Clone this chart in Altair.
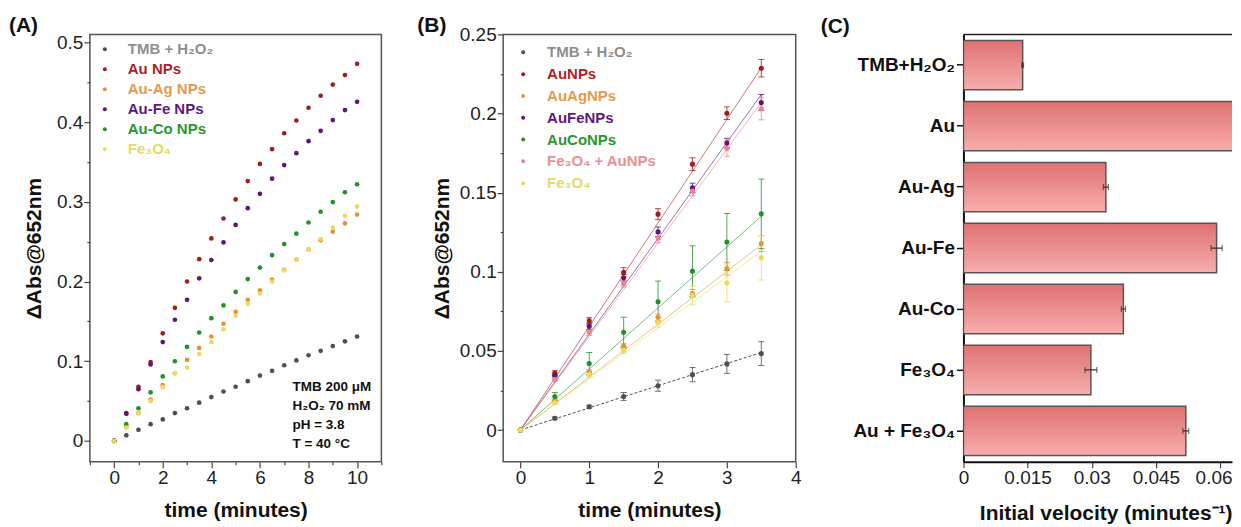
import altair as alt
import pandas as pd

FONT = "Liberation Sans"

# ---------------- Panel A data ----------------
a_times = [0, 0.5, 1, 1.5, 2, 2.5, 3, 3.5, 4, 4.5, 5, 5.5, 6, 6.5, 7, 7.5, 8, 8.5, 9, 9.5, 10]
a_names = ["TMB + H₂O₂", "Au NPs", "Au-Ag NPs", "Au-Fe NPs", "Au-Co NPs", "Fe₃O₄"]
a_tmb = [0, 0.007, 0.014, 0.021, 0.027, 0.035, 0.041, 0.048, 0.055, 0.062, 0.068,
         0.075, 0.082, 0.088, 0.095, 0.101, 0.1075, 0.113, 0.119, 0.125, 0.131]
a_au = [0, 0.035, 0.068, 0.099, 0.135, 0.167, 0.200, 0.228, 0.254, 0.279, 0.303,
        0.326, 0.3475, 0.366, 0.386, 0.402, 0.418, 0.433, 0.447, 0.459, 0.473]
a_auag = [0, 0.0175, 0.035, 0.052, 0.070, 0.085, 0.1017, 0.1167, 0.131, 0.147, 0.162,
          0.177, 0.189, 0.2025, 0.2146, 0.2275, 0.240, 0.2517, 0.2625, 0.273, 0.284]
a_aufe = [0, 0.034, 0.065, 0.096, 0.124, 0.152, 0.177, 0.204, 0.227, 0.249, 0.271,
          0.292, 0.310, 0.329, 0.346, 0.361, 0.376, 0.389, 0.4025, 0.415, 0.4254]
a_auco = [0, 0.021, 0.041, 0.061, 0.081, 0.100, 0.118, 0.136, 0.154, 0.170, 0.187,
          0.203, 0.2175, 0.233, 0.247, 0.260, 0.274, 0.2875, 0.2996, 0.312, 0.322]
a_fe3o4 = [0, 0.0167, 0.0346, 0.050, 0.0675, 0.085, 0.092, 0.109, 0.124, 0.140, 0.157,
           0.172, 0.185, 0.200, 0.214, 0.2275, 0.240, 0.2533, 0.2675, 0.2825, 0.294]
a_marker_colors = ["#4f4f4f", "#a31d1d", "#e8903a", "#5b1677", "#24902c", "#eadb5c"]
a_text_colors = ["#8e8e8e", "#b01f1f", "#e49a4c", "#5e1880", "#2a962e", "#e5da68"]
a_note = ["TMB 200 μM", "H₂O₂ 70 mM", "pH = 3.8", "T = 40 °C"]
a_yticks = [0, 0.05, 0.1, 0.15, 0.2, 0.25, 0.3, 0.35, 0.4, 0.45, 0.5]
a_xticks = [-1, 0, 1, 2, 3, 4, 5, 6, 7, 8, 9, 10, 11]

# ---------------- Panel B data ----------------
b_times = [0, 0.5, 1, 1.5, 2, 2.5, 3, 3.5]
b_names = ["TMB + H₂O₂", "AuNPs", "AuAgNPs", "AuFeNPs", "AuCoNPs", "Fe₃O₄ + AuNPs", "Fe₃O₄"]
b_tmb = [0, 0.0074, 0.0147, 0.0212, 0.028, 0.035, 0.0418, 0.0483]
b_tmb_err = [0, 0.0008, 0.001, 0.0025, 0.0035, 0.0045, 0.006, 0.0075]
b_au = [0, 0.036, 0.069, 0.0996, 0.1364, 0.168, 0.2002, 0.2286]
b_au_err = [0, 0.0015, 0.002, 0.003, 0.0035, 0.004, 0.004, 0.0055]
b_auag = [0, 0.0185, 0.0365, 0.053, 0.0712, 0.0863, 0.102, 0.1178]
b_auag_err = [0, 0.001, 0.0015, 0.0015, 0.002, 0.0025, 0.004, 0.005]
b_aufe = [0, 0.0345, 0.0655, 0.0962, 0.1253, 0.153, 0.1813, 0.207]
b_aufe_err = [0, 0.001, 0.002, 0.002, 0.003, 0.003, 0.003, 0.005]
b_auco = [0, 0.0212, 0.042, 0.0618, 0.0811, 0.1004, 0.1188, 0.1366]
b_auco_err = [0, 0.0025, 0.007, 0.0095, 0.013, 0.016, 0.018, 0.022]
b_mix = [0, 0.032, 0.0618, 0.0924, 0.1213, 0.151, 0.178, 0.203]
b_mix_err = [0, 0.001, 0.002, 0.002, 0.003, 0.003, 0.005, 0.007]
b_fe3o4 = [0, 0.0172, 0.035, 0.0504, 0.0679, 0.085, 0.093, 0.1088]
b_fe3o4_err = [0, 0.001, 0.0015, 0.002, 0.003, 0.006, 0.012, 0.014]
b_fit_t = [0, 3.5]
b_fit_start = [0, 0, 0, 0, 0, 0, 0]
b_fit_end = [0.049, 0.229, 0.117, 0.212, 0.135, 0.207, 0.113]
b_marker_colors = ["#4f4f4f", "#a31d1d", "#e8903a", "#5b1677", "#24902c", "#e8848e", "#eadb5c"]
b_text_colors = ["#8e8e8e", "#b01f1f", "#e49a4c", "#5e1880", "#2a962e", "#e89098", "#e5da68"]
b_yticks = [0, 0.025, 0.05, 0.075, 0.1, 0.125, 0.15, 0.175, 0.2, 0.225, 0.25]
b_xticks = [0, 0.25, 0.5, 0.75, 1, 1.25, 1.5, 1.75, 2, 2.25, 2.5, 2.75, 3, 3.25, 3.5, 3.75, 4]

# ---------------- Panel C data ----------------
c_cats = ["TMB+H₂O₂", "Au", "Au-Ag", "Au-Fe", "Au-Co", "Fe₃O₄", "Au + Fe₃O₄"]
c_vals = [0.01385, 0.0640, 0.0333, 0.0592, 0.0374, 0.0298, 0.0520]
c_errs = [0.0002, 0.0008, 0.0006, 0.0013, 0.0005, 0.0014, 0.0007]
c_xticks = [0, 0.0075, 0.015, 0.0225, 0.03, 0.0375, 0.045, 0.0525, 0.06]

# ---------------- helpers ----------------
W_A, W_B, W_C, H = 292, 293, 269, 428
GAP1, GAP2 = 122, 168
LABEL_SIZE = 19
TITLE_SIZE = 21


def num_axis(values, major, title, tx, ty, **extra):
    return alt.Axis(
        values=values,
        labelExpr=f"({major}) ? format(datum.value, '~g') : ''",
        tickSize={"condition": {"test": f"!({major})", "value": 3}, "value": 6},
        tickColor="#444", tickWidth=1.2, grid=False,
        labelFont=FONT, labelFontSize=LABEL_SIZE, labelColor="#222", labelPadding=1,
        labelFlush=False, labelOverlap=False,
        title=title, titleFont=FONT, titleFontSize=TITLE_SIZE, titleFontWeight="bold",
        titleColor="#111", titleX=tx, titleY=ty, titleBaseline="middle",
        **extra,
    )


def legend_layers(names, mcols, tcols, y0, y1, mx, tx):
    df = pd.DataFrame({"s": names, "mc": mcols, "tc": tcols})
    ly = alt.Y("s:N", scale=alt.Scale(type="point", domain=names, range=[y0, y1], padding=0), axis=None)
    pts = alt.Chart(df).mark_circle(size=16, opacity=1).encode(
        x=alt.value(mx), y=ly, color=alt.Color("mc:N", scale=None))
    txt = alt.Chart(df).mark_text(align="left", baseline="middle", font=FONT, fontSize=15,
                                  fontWeight="bold").encode(
        x=alt.value(tx), y=ly, text="s:N", color=alt.Color("tc:N", scale=None))
    return [pts, txt]


def panel_label(text, x, y):
    return alt.Chart(pd.DataFrame({"lab": [text]})).mark_text(
        align="left", baseline="middle", font=FONT, fontSize=21, fontWeight="bold", color="#111"
    ).encode(x=alt.value(x), y=alt.value(y), text="lab:N")


# ---------------- Panel A ----------------
rows = []
for name, vals in zip(a_names, [a_tmb, a_au, a_auag, a_aufe, a_auco, a_fe3o4]):
    for t, v in zip(a_times, vals):
        rows.append({"t": t, "v": v, "s": name})
dfA = pd.DataFrame(rows)

ptsA = alt.Chart(dfA).mark_circle(size=22, opacity=1).encode(
    x=alt.X("t:Q", scale=alt.Scale(domain=[-1, 11], nice=False, zero=False),
            axis=num_axis(a_xticks, "datum.value % 2 == 0", "time (minutes)", W_A / 2, 49, domain=False)),
    y=alt.Y("v:Q", scale=alt.Scale(domain=[-0.026, 0.51], nice=False, zero=False),
            axis=num_axis(a_yticks, "abs(datum.value*10 - round(datum.value*10)) < 0.001",
                          "ΔAbs@652nm", -55, H / 2, domain=False)),
    color=alt.Color("s:N", scale=alt.Scale(domain=a_names, range=a_marker_colors), legend=None),
)
noteA = alt.Chart(pd.DataFrame({"i": [0]})).mark_text(
    align="left", baseline="middle", font=FONT, fontSize=13.5, fontWeight="bold",
    lineHeight=19, color="#111").encode(x=alt.value(203), y=alt.value(353), text=alt.value(a_note))

panelA = alt.layer(
    ptsA, *legend_layers(a_names, a_marker_colors, a_text_colors, 15, 115, 15, 38),
    panel_label("(A)", -81, -8), noteA,
).resolve_scale(y="independent", color="independent").properties(
    width=W_A, height=H, view=alt.ViewBackground(stroke="#555", strokeWidth=1.5))

# ---------------- Panel B ----------------
rows = []
b_series = [b_tmb, b_au, b_auag, b_aufe, b_auco, b_mix, b_fe3o4]
b_errs = [b_tmb_err, b_au_err, b_auag_err, b_aufe_err, b_auco_err, b_mix_err, b_fe3o4_err]
for name, vals, errs in zip(b_names, b_series, b_errs):
    for t, v, e in zip(b_times, vals, errs):
        rows.append({"t": t, "v": v, "lo": v - e, "hi": v + e, "e": e, "s": name})
dfB = pd.DataFrame(rows)
rows = []
for name, v0, v1 in zip(b_names, b_fit_start, b_fit_end):
    rows.append({"t": b_fit_t[0], "v": v0, "s": name})
    rows.append({"t": b_fit_t[1], "v": v1, "s": name})
dfFit = pd.DataFrame(rows)

xB = alt.Scale(domain=[-0.25, 4], nice=False, zero=False)
yB = alt.Scale(domain=[-0.02, 0.25], nice=False, zero=False)
colB = alt.Scale(domain=b_names, range=b_marker_colors)

fitSolid = alt.Chart(dfFit).transform_filter(alt.datum.s != b_names[0]).mark_line(
    strokeWidth=0.8, opacity=0.75).encode(
    x=alt.X("t:Q", scale=xB), y=alt.Y("v:Q", scale=yB),
    color=alt.Color("s:N", scale=colB, legend=None), detail="s:N")
fitDash = alt.Chart(dfFit).transform_filter(alt.datum.s == b_names[0]).mark_line(
    strokeWidth=1, strokeDash=[3, 2]).encode(
    x=alt.X("t:Q", scale=xB), y=alt.Y("v:Q", scale=yB),
    color=alt.Color("s:N", scale=colB, legend=None))
errB = alt.Chart(dfB).transform_filter(alt.datum.e > 0).mark_rule(strokeWidth=1, opacity=0.8).encode(
    x=alt.X("t:Q", scale=xB), y=alt.Y("lo:Q", scale=yB), y2="hi:Q",
    color=alt.Color("s:N", scale=colB, legend=None))
capLo = alt.Chart(dfB).transform_filter(alt.datum.e > 0).mark_tick(
    orient="horizontal", size=6, thickness=1, opacity=0.8).encode(
    x=alt.X("t:Q", scale=xB), y=alt.Y("lo:Q", scale=yB),
    color=alt.Color("s:N", scale=colB, legend=None))
capHi = alt.Chart(dfB).transform_filter(alt.datum.e > 0).mark_tick(
    orient="horizontal", size=6, thickness=1, opacity=0.8).encode(
    x=alt.X("t:Q", scale=xB), y=alt.Y("hi:Q", scale=yB),
    color=alt.Color("s:N", scale=colB, legend=None))
ptsB = alt.Chart(dfB).mark_circle(size=26, opacity=1).encode(
    x=alt.X("t:Q", scale=xB,
            axis=num_axis(b_xticks, "abs(datum.value*2 - round(datum.value*2)) < 0.001",
                          "time (minutes)", W_B / 2, 49, domain=False)),
    y=alt.Y("v:Q", scale=yB,
            axis=num_axis(b_yticks, "abs(datum.value*20 - round(datum.value*20)) < 0.001",
                          "ΔAbs@652nm", -61, H / 2, domain=False)),
    color=alt.Color("s:N", scale=colB, legend=None))

mainB = alt.layer(fitDash, fitSolid, errB, capLo, capHi, ptsB)
panelB = alt.layer(
    mainB, *legend_layers(b_names, b_marker_colors, b_text_colors, 18, 149, 20, 44),
    panel_label("(B)", -86, -8),
).resolve_scale(y="independent", color="independent").properties(
    width=W_B, height=H, view=alt.ViewBackground(stroke="#555", strokeWidth=1.5))

# ---------------- Panel C ----------------
dfC = pd.DataFrame({
    "cat": c_cats, "v": c_vals,
    "lo": [v - e for v, e in zip(c_vals, c_errs)],
    "hi": [v + e for v, e in zip(c_vals, c_errs)],
})
xC = alt.Scale(domain=[0, 0.0628], nice=False, zero=True)
yC = alt.Scale(domain=c_cats, paddingInner=0.19, paddingOuter=0.1)
grad = alt.Gradient(
    gradient="linear",
    stops=[alt.GradientStop(color="#de7272", offset=0), alt.GradientStop(color="#f8adad", offset=1)],
    x1=0, x2=0, y1=0, y2=1)
barsC = alt.Chart(dfC).mark_bar(clip=True, fill=grad, stroke="#555", strokeWidth=1.5).encode(
    x=alt.X("v:Q", scale=xC,
            axis=num_axis(c_xticks, "abs(datum.value/0.015 - round(datum.value/0.015)) < 0.001",
                          "Initial velocity (minutes⁻¹)", W_C, 52,
                          domain=True, domainColor="#111", domainWidth=2, titleAlign="right",
                          labelAlign={"condition": {"test": "datum.value > 0.059", "value": "right"},
                                      "value": "center"},
                          labelOffset={"condition": {"test": "datum.value > 0.059", "value": 12},
                                       "value": 0})),
    y=alt.Y("cat:N", scale=yC, sort=c_cats,
            axis=alt.Axis(title=None, labelFont=FONT, labelFontSize=19, labelFontWeight="bold",
                          labelColor="#111", tickSize=7, tickColor="#111", tickWidth=1.5,
                          domainColor="#111", domainWidth=2, labelPadding=2, grid=False)),
)
errC = alt.Chart(dfC).mark_rule(clip=True, color="#333", strokeWidth=1.2).encode(
    x=alt.X("lo:Q", scale=xC), x2="hi:Q", y=alt.Y("cat:N", scale=yC, sort=c_cats))
capCl = alt.Chart(dfC).mark_tick(clip=True, orient="vertical", size=6, thickness=1.2, color="#333").encode(
    x=alt.X("lo:Q", scale=xC), y=alt.Y("cat:N", scale=yC, sort=c_cats))
capCh = alt.Chart(dfC).mark_tick(clip=True, orient="vertical", size=6, thickness=1.2, color="#333").encode(
    x=alt.X("hi:Q", scale=xC), y=alt.Y("cat:N", scale=yC, sort=c_cats))
topC = alt.Chart(pd.DataFrame({"i": [0]})).mark_rule(color="#222", strokeWidth=1.5).encode(
    x=alt.value(0), x2=alt.value(W_C), y=alt.value(0))

panelC = alt.layer(barsC, errC, capCl, capCh, topC, panel_label("(C)", -143, -7)).properties(
    width=W_C, height=H)


def spacer(w):
    return alt.Chart(pd.DataFrame({"z": [0]})).mark_point(opacity=0).encode(
        x=alt.X("z:Q", axis=None), y=alt.Y("z:Q", axis=None)).properties(width=w, height=H)


chart = alt.hconcat(panelA, spacer(GAP1), panelB, spacer(GAP2), panelC,
                    spacing=0, bounds="flush").properties(
    padding={"left": 0, "top": 6, "right": 0, "bottom": 0}, background="white"
).configure_view(strokeWidth=0)

chart.save("out.html", embed_options={"renderer": "svg", "actions": False})
